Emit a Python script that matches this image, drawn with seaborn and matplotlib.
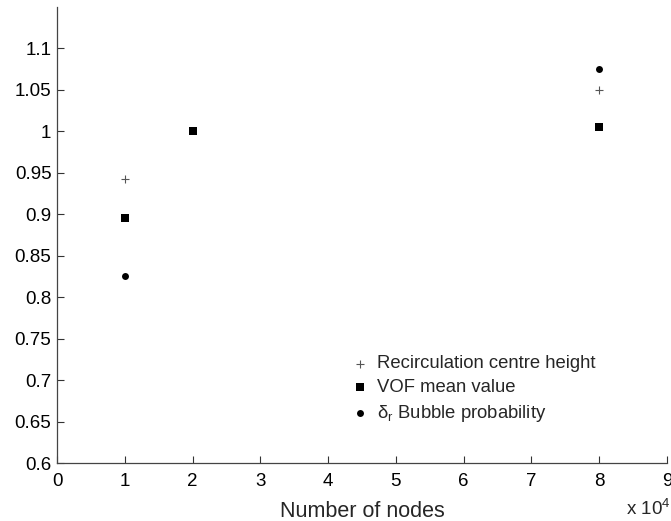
import matplotlib
matplotlib.use("Agg")
import matplotlib.pyplot as plt
import seaborn as sns
import pandas as pd

series_names = ["Recirculation centre height", "VOF mean value", r"$\mathregular{\delta_r}$ Bubble probability"]
recirc_x = [1, 8]
recirc_y = [0.942, 1.050]
vof_x = [1, 2, 8]
vof_y = [0.895, 1.000, 1.005]
bubble_x = [1, 8]
bubble_y = [0.825, 1.075]
x_ticks = list(range(0, 10))
y_ticks = [0.6, 0.65, 0.7, 0.75, 0.8, 0.85, 0.9, 0.95, 1, 1.05, 1.1]

df = pd.DataFrame({
    "x": recirc_x + vof_x + bubble_x,
    "y": recirc_y + vof_y + bubble_y,
    "series": [series_names[0]] * len(recirc_x) + [series_names[1]] * len(vof_x) + [series_names[2]] * len(bubble_x),
})

sns.set_style("ticks")
plt.rcParams['font.family'] = ['Liberation Sans', 'DejaVu Sans']

fig = plt.figure(figsize=(6.71, 5.21), dpi=100)
ax = fig.add_axes([0.085, 0.111, 0.909, 0.876])

palette = {series_names[0]: "#555555", series_names[1]: "black", series_names[2]: "black"}
markers = {series_names[0]: "+", series_names[1]: "s", series_names[2]: "o"}
sizes = {series_names[0]: 30, series_names[1]: 30, series_names[2]: 25}

for name in series_names:
    sub = df[df["series"] == name]
    sns.scatterplot(data=sub, x="x", y="y", ax=ax, color=palette[name], marker=markers[name],
                    s=sizes[name], linewidth=0.8 if markers[name] == "+" else 0, label=name)

ax.set_xlim(0, 9)
ax.set_ylim(0.6, 1.15)
ax.set_xticks(x_ticks)
ax.set_xticklabels([str(t) for t in x_ticks])
ax.set_yticks(y_ticks)
ax.set_yticklabels([f"{t:g}" for t in y_ticks])
ax.tick_params(direction="in", length=5, width=0.8, labelsize=13.5, colors="#333333", labelcolor="black")
ax.tick_params(axis="x", pad=7)
ax.tick_params(axis="y", pad=4)
for sp in ["top", "right"]:
    ax.spines[sp].set_visible(False)
for sp in ["left", "bottom"]:
    ax.spines[sp].set_color("#444444")
    ax.spines[sp].set_linewidth(0.9)

ax.set_xlabel("Number of nodes", fontsize=15.5, labelpad=8)
ax.set_ylabel("")
fig.text(0.933, 0.004, r"x 10$^\mathregular{4}$", fontsize=13.5, ha="left", va="bottom")

leg = ax.legend(loc="upper left", bbox_to_anchor=(0.482, 0.236), frameon=False, fontsize=13.3,
                handletextpad=0.4, labelspacing=0.36, handlelength=1.0, borderaxespad=0, borderpad=0)

fig.savefig("out.png", dpi=100)
